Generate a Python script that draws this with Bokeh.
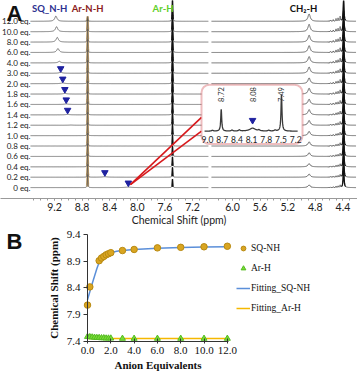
import numpy as np
from bokeh.plotting import figure
from bokeh.models import (Range1d, FixedTicker, BoxAnnotation, Legend,
                          LegendItem, PrintfTickFormatter)
from bokeh.embed import file_html
from bokeh.resources import INLINE
from bokeh.core.properties import value

# ---------------- Panel A data (1H NMR titration) ----------------
eq_labels = ["0 eq.", "0.2 eq.", "0.4 eq.", "0.6 eq.", "0.8 eq.", "1.0 eq.", "1.2 eq.",
             "1.4 eq.", "1.6 eq.", "1.8 eq.", "2.0 eq.", "3.0 eq.", "4.0 eq.", "6.0 eq.",
             "8.0 eq.", "10.0 eq.", "12.0 eq."]

# SQ_N-H signal: position (ppm), height (trace-spacing units), half width (ppm)
sq_ppm    = [8.13, 8.47, 8.62, 8.76, 8.86, 8.92, 8.96, 9.01, 9.03, 9.05, 9.08, 9.11, 9.13, 9.15, 9.16, 9.17, 9.18]
sq_height = [0.05, 0.05, 0.00, 0.00, 0.00, 0.00, 0.02, 0.04, 0.05, 0.06, 0.07, 0.10, 0.15, 0.38, 0.45, 0.48, 0.50]
sq_width  = [0.05, 0.04, 0.04, 0.04, 0.04, 0.04, 0.03, 0.03, 0.03, 0.03, 0.03, 0.025, 0.02, 0.02, 0.02, 0.02, 0.02]

arnh_ppm = 8.72
arnh_height = [1.25, 1.25, 1.25, 1.25, 1.25, 1.25, 1.25, 1.25, 1.25, 1.25, 1.25, 1.25, 1.25, 1.25, 1.25, 1.25, 0.45]

arh_ppm = 7.49
arh_height = [0.8, 0.95, 0.95, 1.0, 1.1, 1.2, 1.5, 1.8, 2.0, 2.0, 2.0, 2.0, 2.0, 2.0, 2.0, 2.0, 2.2]

ch2_ppm = 4.89
ch2_height = [0.25, 0.3, 0.3, 0.35, 0.4, 0.4, 0.45, 0.5, 0.5, 0.55, 0.55, 0.6, 0.6, 0.65, 0.65, 0.7, 0.7]

solv_ppm = 4.39
solv_height = [2.0] * 17
solv_fuzz_ppm = [4.44, 4.47, 4.50, 4.54, 4.58]
solv_fuzz_height = [0.45, 0.3, 0.25, 0.15, 0.1]
solv_fuzz_scale = [0.5, 0.5, 0.55, 0.6, 0.6, 0.65, 0.7, 0.7, 0.75, 0.8, 0.8, 0.85, 0.9, 0.9, 0.95, 1.0, 1.0]

# blue markers on the SQ_N-H signal
tri_index = [0, 1, 7, 8, 9, 10, 11]
tri_ppm = [8.13, 8.47, 9.01, 9.03, 9.05, 9.08, 9.11]

headers_text = ["SQ_N-H", "Ar-N-H", "Ar-H", "CH\u2082-H"]
headers_ppm = [9.27, 8.72, 7.475, 4.97]
headers_color = ["#2b2f8f", "#8b1c1c", "#5fcf2a", "#111111"]
headers_align = ["center", "center", "right", "center"]

ticks_left = [9.2, 8.8, 8.4, 8.0, 7.6, 7.2]
ticks_right = [6.0, 5.6, 5.2, 4.8, 4.4]

# inset (0 eq. spectrum, 9.0 - 7.2 ppm)
inset_peak_ppm = [8.72, 8.08, 7.49]
inset_peak_height = [22, 3, 37]
inset_peak_width = [0.012, 0.07, 0.012]
inset_noise_ppm = [8.9, 8.5, 8.35, 7.95, 7.75, 7.62]
inset_noise_height = [0.8, 1.0, 1.2, 1.0, 0.8, 1.0]
inset_labels = ["8.72", "8.08", "7.49"]
inset_ticks = [9.0, 8.7, 8.4, 8.1, 7.8, 7.5, 7.2]

# ---------------- Panel B data ----------------
b_eq_sq = [0, 0.2, 1.0, 1.2, 1.4, 1.6, 1.8, 2.0, 3.0, 4.0, 6.0, 8.0, 10.0, 12.0]
b_sq = [8.08, 8.42, 8.91, 8.96, 8.99, 9.02, 9.04, 9.06, 9.10, 9.12, 9.15, 9.16, 9.17, 9.18]
b_eq_arh = [0, 0.2, 0.4, 0.6, 0.8, 1.0, 1.2, 1.4, 1.6, 1.8, 2.0, 3.0, 4.0, 6.0, 8.0, 10.0, 12.0]
b_arh = [7.49, 7.485, 7.48, 7.475, 7.47, 7.47, 7.465, 7.465, 7.46, 7.46, 7.46, 7.455, 7.455,
         7.455, 7.455, 7.455, 7.455]
fit_eq = [0, 0.2, 0.4, 0.6, 0.8, 1.0, 1.2, 1.4, 1.6, 1.8, 2.0, 2.5, 3.0, 4.0, 6.0, 8.0, 10.0, 12.0]
fit_sq = [8.18, 8.33, 8.48, 8.62, 8.76, 8.88, 8.95, 8.99, 9.02, 9.04, 9.06, 9.085, 9.10, 9.12,
          9.145, 9.155, 9.165, 9.17]
fit_arh = [7.455] * len(fit_eq)
b_xticks = [0, 2, 4, 6, 8, 10, 12]
b_yticks = [7.4, 7.9, 8.4, 8.9, 9.4]

# ---------------- broken-axis geometry ----------------
SEG_LEFT = (9.548, 6.97)
SEG_RIGHT = (6.305, 4.21)
SHIFT = 0.62          # right segment is drawn shifted by this amount
LABEL_X = 9.548       # right edge of the trace labels


def lor(x, c, h, w):
    return h / (1.0 + ((x - c) / w) ** 2)


def grid(a, b, centers, step=0.003):
    parts = [np.arange(b, a, step), np.array([a, b])]
    for c in centers:
        if b <= c <= a:
            parts.append(np.arange(max(b, c - 0.04), min(a, c + 0.04), 0.0005))
    return np.unique(np.concatenate(parts))[::-1]


def spectrum(x, i):
    y = np.full_like(x, float(i))
    peaks = [(sq_ppm[i], sq_height[i], sq_width[i]),
             (arnh_ppm, arnh_height[i], 0.004),
             (arh_ppm, arh_height[i], 0.004),
             (ch2_ppm, ch2_height[i], 0.02),
             (solv_ppm, solv_height[i], 0.007)]
    peaks += [(c, h * solv_fuzz_scale[i], 0.004) for c, h in zip(solv_fuzz_ppm, solv_fuzz_height)]
    for c, h, w in peaks:
        y = y + lor(x, c, h, w)
    return y


centers = [arnh_ppm, arh_ppm, ch2_ppm, solv_ppm] + solv_fuzz_ppm
xl = grid(SEG_LEFT[0], SEG_LEFT[1], centers)
xr = grid(SEG_RIGHT[0], SEG_RIGHT[1], centers)
xo = np.linspace(arnh_ppm + 0.012, arnh_ppm - 0.012, 49)
xh = np.linspace(arh_ppm + 0.012, arh_ppm - 0.012, 49)
xw = np.linspace(solv_ppm + 0.03, solv_ppm - 0.03, 121)

xs_l, ys_l, xs_r, ys_r, xs_o, ys_o, xs_d, ys_d = [], [], [], [], [], [], [], []
for i in range(len(eq_labels)):
    xs_l.append(xl); ys_l.append(spectrum(xl, i))
    xs_r.append(xr + SHIFT); ys_r.append(spectrum(xr, i))
    xs_o.append(xo); ys_o.append(spectrum(xo, i))
    xs_d.append(xh); ys_d.append(spectrum(xh, i))
    xs_d.append(xw + SHIFT); ys_d.append(spectrum(xw, i))

# ---------------- Panel A figure ----------------
pA = figure(width=357, height=228, x_range=Range1d(9.9826, 4.8087), y_range=Range1d(-1.0476, 18.0),
            output_backend="svg", toolbar_location=None, min_border_left=0, min_border_right=0,
            min_border_top=0, min_border_bottom=28)
pA.extra_x_ranges = {"inset": Range1d(13.2245, 5.9388)}
pA.extra_y_ranges = {"inset": Range1d(-68, 132)}
pA.grid.visible = False
pA.outline_line_color = None
pA.yaxis.visible = False

pA.multi_line(xs_o, ys_o, line_color="#c9a46a", line_width=2.2)
pA.multi_line(xs_l, ys_l, line_color="#585858", line_width=0.8)
pA.multi_line(xs_r, ys_r, line_color="#484848", line_width=0.8)
pA.multi_line(xs_d, ys_d, line_color="#111111", line_width=1.3)
pA.scatter(tri_ppm, [k + 0.45 for k in tri_index],
           marker="inverted_triangle", size=6.5, fill_color="#1f22a0", line_color="#1f22a0")

# trace labels
pA.text(x=[LABEL_X] * len(eq_labels), y=list(range(len(eq_labels))), text=eq_labels,
        text_align="right", text_baseline="middle", text_font=value("Lato"),
        text_font_size="8px", text_color="#222222")

pA.text(x=headers_ppm[:3] + [headers_ppm[3] + SHIFT], y=[17.24] * 4, text=headers_text,
        text_color=headers_color, text_align=headers_align, text_baseline="middle",
        text_font=value("Lato"), text_font_style="bold", text_font_size="9.5px")

pA.text(x=[9.8957], y=[18.0], text=["A"], text_align="left", text_baseline="top",
        text_font=value("Liberation Sans"), text_font_style="bold", text_font_size="22px",
        text_color="#111111")

# pointer lines to the inset
pA.segment(x0=[8.10, 8.10], y0=[0.29, 0.29], x1=[7.0696, 7.0696], y1=[6.76, 5.43],
           line_color="#d7191c", line_width=1.6)

box = BoxAnnotation(left=7.0696, right=5.6058, top=9.905, bottom=4.19, fill_color="white",
                    fill_alpha=1.0, line_color="#c8242b", line_width=2, border_radius=8)
pA.add_layout(box)

xi = np.linspace(9.06, 7.16, 800)
yi = np.zeros_like(xi)
for c, h, w in zip(inset_peak_ppm, inset_peak_height, inset_peak_width):
    yi = yi + lor(xi, c, h, w)
for c, h in zip(inset_noise_ppm, inset_noise_height):
    yi = yi + lor(xi, c, h, 0.02)
pA.line(xi, yi, line_color="#3a3a3a", line_width=1.3, x_range_name="inset", y_range_name="inset",
        level="overlay")
pA.scatter([inset_peak_ppm[1]], [11], marker="inverted_triangle", size=6.5, fill_color="#1f22a0",
           line_color="#1f22a0", x_range_name="inset", y_range_name="inset", level="overlay")
pA.text(x=inset_peak_ppm, y=[37] * 3, text=inset_labels, angle=np.pi / 2, text_align="center",
        text_baseline="middle", text_font=value("Lato"), text_font_size="7.5px", text_color="#333333",
        x_range_name="inset", y_range_name="inset", level="overlay")
pA.text(x=inset_ticks, y=[-8] * len(inset_ticks), text=["%.1f" % t for t in inset_ticks],
        text_align="center", text_baseline="middle", text_font=value("Lato"), text_font_size="8.5px",
        text_color="#222222", x_range_name="inset", y_range_name="inset", level="overlay")

# x axis: broken ppm axis
tick_pos = ticks_left + [t + SHIFT for t in ticks_right]
minor_pos = [round(9.5 - 0.1 * k, 2) for k in range(26)] + \
            [round(6.2 - 0.1 * k, 2) + SHIFT for k in range(20)]
pA.xaxis.ticker = FixedTicker(ticks=tick_pos, minor_ticks=minor_pos)
pA.xaxis.major_label_overrides = {p: "%.1f" % t for p, t in zip(tick_pos, ticks_left + ticks_right)}
pA.xaxis.axis_line_color = "#9a9a9a"
pA.xaxis.major_tick_line_color = "#9a9a9a"
pA.xaxis.minor_tick_line_color = "#9a9a9a"
pA.xaxis.major_tick_in = 0
pA.xaxis.major_tick_out = 2
pA.xaxis.minor_tick_in = 0
pA.xaxis.minor_tick_out = 2
pA.xaxis.major_label_standoff = 2
pA.xaxis.major_label_text_font = "Lato"
pA.xaxis.major_label_text_font_size = "10.5px"
pA.xaxis.major_label_text_color = "#222222"
pA.xaxis.axis_label = "Chemical Shift (ppm)"
pA.xaxis.axis_label_standoff = 0
pA.xaxis.axis_label_text_font = "Lato"
pA.xaxis.axis_label_text_font_size = "10.5px"
pA.xaxis.axis_label_text_font_style = "normal"
pA.xaxis.axis_label_text_color = "#222222"

# ---------------- Panel B figure ----------------
# frame spans the whole canvas; both axes are pinned inside it
pB = figure(width=357, height=147, x_range=Range1d(-7.466, 23.17), y_range=Range1d(6.764, 9.512),
            output_backend="svg", toolbar_location=None, min_border_left=0, min_border_right=0,
            min_border_top=0, min_border_bottom=0)
pB.grid.visible = False
pB.outline_line_color = None

r_fit_sq = pB.line(fit_eq, fit_sq, line_color="#5b8fd9", line_width=1.5)
r_fit_arh = pB.line(fit_eq, fit_arh, line_color="#f5b800", line_width=1.5)
r_sq = pB.scatter(b_eq_sq, b_sq, marker="circle", size=6.5, fill_color="#d9a521", line_color="#b98a12")
r_arh = pB.scatter(b_eq_arh, b_arh, marker="triangle", size=6, fill_color="#77dd33", line_color="#55bb22")

for ax in (pB.xaxis, pB.yaxis):
    ax.axis_line_color = "#333333"
    ax.major_tick_line_color = "#333333"
    ax.minor_tick_line_color = None
    ax.major_label_text_font = "Liberation Serif"
    ax.major_label_text_font_size = "11px"
    ax.major_label_text_color = "#111111"
    ax.axis_label_text_font = "Liberation Serif"
    ax.axis_label_text_font_size = "11px"
    ax.axis_label_text_font_style = "bold"
    ax.axis_label_text_color = "#111111"
    ax.formatter = PrintfTickFormatter(format="%.1f")

pB.xaxis.ticker = FixedTicker(ticks=b_xticks)
pB.xaxis.bounds = (0, 12.1)
pB.xaxis.fixed_location = 7.4
pB.xaxis.major_tick_in = 3
pB.xaxis.major_tick_out = 2
pB.xaxis.major_label_standoff = 4
pB.xaxis.axis_label = "Anion Equivalents"
pB.xaxis.axis_label_standoff = 1
pB.yaxis.ticker = FixedTicker(ticks=b_yticks)
pB.yaxis.bounds = (7.4, 9.4)
pB.yaxis.fixed_location = 0
pB.yaxis.major_tick_in = 0
pB.yaxis.major_tick_out = 4
pB.yaxis.major_label_standoff = 3
pB.yaxis.axis_label = "Chemical Shift (ppm)"
pB.yaxis.axis_label_standoff = 4

legend = Legend(items=[LegendItem(label="SQ-NH", renderers=[r_sq]),
                       LegendItem(label="Ar-H", renderers=[r_arh]),
                       LegendItem(label="Fitting_SQ-NH", renderers=[r_fit_sq]),
                       LegendItem(label="Fitting_Ar-H", renderers=[r_fit_arh])],
                location=(236, 61), glyph_width=14, glyph_height=12, label_height=12,
                label_standoff=1, spacing=8, padding=0, margin=0, border_line_color=None,
                background_fill_alpha=0, label_text_font="Liberation Serif",
                label_text_font_size="9.5px", label_text_color="#111111")
pB.add_layout(legend)

pB.text(x=[-6.95], y=[9.512], text=["B"], text_align="left", text_baseline="top",
        text_font=value("Liberation Sans"), text_font_style="bold", text_font_size="22px",
        text_color="#111111")

open("out.html", "w").write(file_html([pA, pB], INLINE))
